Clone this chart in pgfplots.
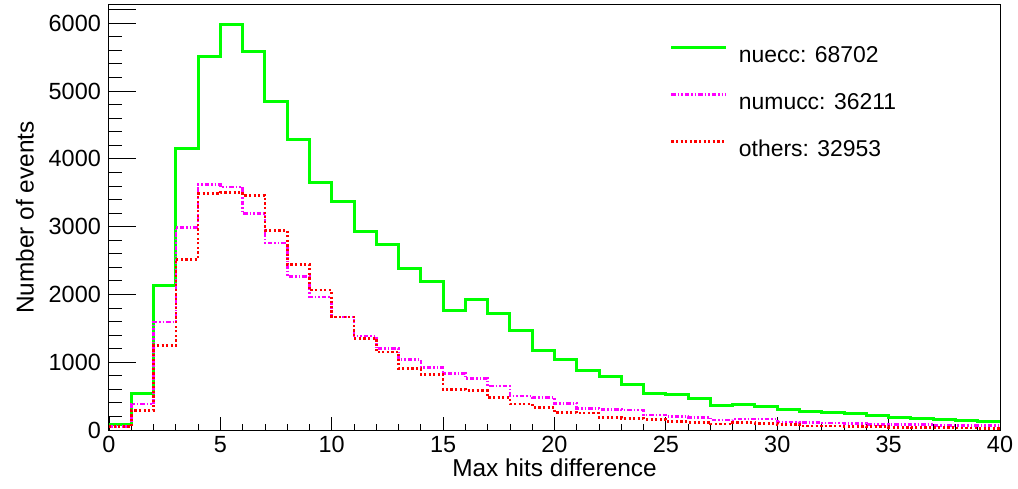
\documentclass[border=0pt]{standalone}
\usepackage{fontspec}
\setmainfont{Liberation Sans}
\usepackage{pgfplots}
\pgfplotsset{compat=1.18}
\usepackage{pgfplotstable}

\definecolor{hgreen}{RGB}{0,255,0}
\definecolor{hmagenta}{RGB}{255,0,255}
\definecolor{hred}{RGB}{255,0,0}

% Bin contents (left bin edge, counts per bin); last row closes the histogram at x = 40
\pgfplotstableread{
x  nuecc numucc others
0    74    50    50
1   540   383   285
2  2135  1595  1242
3  4148  2985  2518
4  5513  3618  3486
5  5975  3585  3505
6  5582  3191  3461
7  4850  2759  2946
8  4281  2268  2445
9  3643  1964  2062
10 3363  1669  1669
11 2921  1384  1350
12 2735  1198  1153
13 2376  1041   903
14 2194   923   820
15 1767   835   599
16 1929   761   579
17 1713   648   481
18 1468   501   383
19 1168   481   334
20 1046   393   260
21  884   319   250
22  795   304   187
23  673   295   172
24  540   221   157
25  530   196   123
26  467   182   113
27  368   147    88
28  383   162   110
29  344   162    95
30  304   118    84
31  270   115    59
32  255   103    59
33  236    98    54
34  216    84    49
35  182    79    39
36  167    79    34
37  152    69    34
38  137    64    29
39  118    64    25
40  118    64    25
}\hist

\begin{document}
\begin{tikzpicture}
\begin{axis}[
  scale only axis,
  width=891bp, height=425bp,
  xmin=0, xmax=40, ymin=0, ymax=6268,
  xtick={0,5,...,40}, minor x tick num=4,
  ytick={0,1000,...,6000}, minor y tick num=4,
  extra y ticks={6200}, extra y tick labels={},
  extra y tick style={/pgfplots/major tick length=13.4bp},
  tick align=inside, tick pos=left,
  xtick style={/pgfplots/major tick length=12.75bp,/pgfplots/minor tick length=6.4bp},
  ytick style={/pgfplots/major tick length=26.7bp,/pgfplots/minor tick length=13.4bp},
  axis line style={black, line width=1bp},
  every tick/.style={black, line width=0.8bp},
  scaled y ticks=false,
  /pgf/number format/assume math mode=true,
  /pgf/number format/set thousands separator={},
  ticklabel style={font=\fontsize{23.5}{27}\selectfont, inner sep=0pt},
  xticklabel style={anchor=north, yshift=-6bp},
  yticklabel style={anchor=east, xshift=-8bp},
  xlabel={Max hits difference},
  ylabel={Number of events},
  every axis x label/.style={at={(rel axis cs:0.5,0)}, anchor=center, yshift=-38bp,
    font=\fontsize{24.5}{28}\selectfont},
  every axis y label/.style={at={([xshift=-84bp]rel axis cs:0,0.5)}, anchor=center, rotate=90,
    font=\fontsize{24.5}{28}\selectfont},
  legend cell align=left,
  legend image code/.code={\draw[#1] (0bp,8bp) -- (55bp,8bp);},
  legend style={draw=none, fill=none, at={(rel axis cs:0.6296,0.904)}, anchor=north west,
    inner sep=0pt, outer sep=0pt, row sep=29bp, column sep=11bp,
    nodes={inner sep=0pt}, font=\fontsize{23}{27}\selectfont},
]
\addplot[const plot, hgreen, line width=3bp, line join=miter] table[x=x, y=nuecc] {\hist};
\addplot[const plot, hmagenta, line width=2.6bp, line join=miter,
  dash pattern=on 4.5bp off 2bp on 1.5bp off 2bp on 1.5bp off 2bp] table[x=x, y=numucc] {\hist};
\addplot[const plot, hred, line width=2.6bp, line join=miter,
  dash pattern=on 2.2bp off 2.4bp] table[x=x, y=others] {\hist};
\legend{nuecc: 68702, numucc: 36211, others: 32953}
\end{axis}
\pgfresetboundingbox
\path[use as bounding box] (-109bp,-59bp) rectangle (909bp,430bp);
\end{tikzpicture}
\end{document}
